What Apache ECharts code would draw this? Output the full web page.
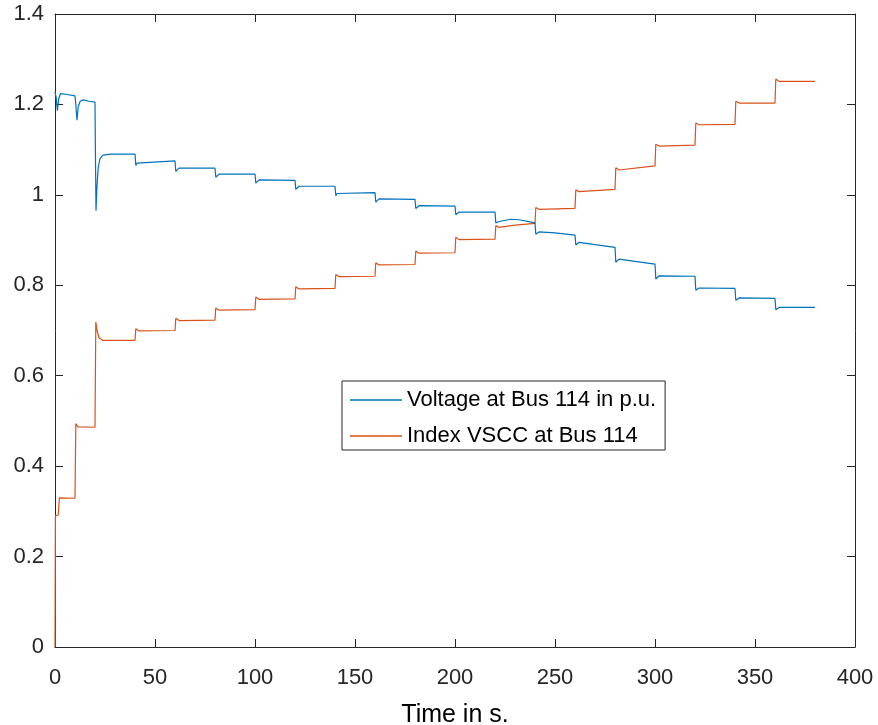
<!DOCTYPE html>
<html>
<head>
<meta charset="utf-8">
<script src="https://cdn.jsdelivr.net/npm/echarts@6/dist/echarts.min.js"></script>
<style>
html,body{margin:0;padding:0;background:#fff;}
#chart{width:878px;height:725px;}
</style>
</head>
<body>
<div id="chart"></div>
<script>
// ---- data ----
var xTicks = [0, 50, 100, 150, 200, 250, 300, 350, 400];
var yTicks = [0, 0.2, 0.4, 0.6, 0.8, 1, 1.2, 1.4];

var voltageName = 'Voltage at Bus 114 in p.u.';
var indexName = 'Index VSCC at Bus 114';

var voltageTime = [0,0.6,1.2,1.8,2.8,6,10,10.4,11,11.6,12.6,14,17,20,20.2,20.5,21,21.6,22.5,24,28,40,
  40.4,41,42,60, 60.4,61,62,80, 80.4,81,82,100, 100.4,101,102,120, 120.4,121,122,140,
  140.4,141,142,160, 160.4,161,162,180, 180.4,181,182,200, 200.4,201,202,220,
  220.4,222,228,232,240, 240.4,242,250,260, 260.4,262,270,280, 280.4,282,290,300,
  300.4,302,320, 320.4,322,340, 340.4,342,360, 360.4,362,380];
var voltageValues = [1.228,1.215,1.186,1.212,1.224,1.222,1.219,1.200,1.165,1.195,1.207,1.210,1.207,1.205,1.10,0.965,1.02,1.06,1.08,1.088,1.090,1.090,
  1.065,1.070,1.073,1.075, 1.052,1.056,1.059,1.059, 1.039,1.043,1.046,1.046, 1.026,1.030,1.033,1.032,
  1.012,1.016,1.019,1.019, 0.998,1.003,1.006,1.005, 0.984,0.988,0.991,0.990, 0.970,0.973,0.976,0.975,
  0.956,0.959,0.962,0.962, 0.938,0.941,0.946,0.945,0.938, 0.913,0.918,0.916,0.911,
  0.889,0.895,0.890,0.884, 0.851,0.858,0.853,0.847, 0.814,0.821,0.820, 0.789,0.794,0.793,
  0.767,0.772,0.771, 0.746,0.751,0.751];

var indexTime = [0,0.2,1.6,2.2,3,10,10.4,11.5,20,20.4,21,22,24,40,
  40.4,42,60, 60.4,62,80, 80.4,82,100, 100.4,102,120, 120.4,122,140, 140.4,142,160,
  160.4,162,180, 180.4,182,200, 200.4,202,220, 220.4,222,230,240, 240.4,242,260,
  260.4,262,280, 280.4,282,300, 300.4,302,320, 320.4,322,340, 340.4,342,360, 360.4,362,380];
var indexValues = [0,0.290,0.292,0.330,0.333,0.329,0.494,0.487,0.486,0.719,0.700,0.684,0.678,0.678,
  0.704,0.699,0.700, 0.727,0.722,0.723, 0.750,0.745,0.746, 0.774,0.769,0.770, 0.797,0.792,0.793,
  0.824,0.819,0.820, 0.850,0.845,0.846, 0.876,0.871,0.872, 0.906,0.901,0.902,
  0.932,0.928,0.933,0.937, 0.972,0.968,0.970, 1.011,1.007,1.012, 1.060,1.055,1.064,
  1.112,1.108,1.110, 1.159,1.155,1.156, 1.207,1.203,1.203, 1.256,1.251,1.251];

function zip(ts, vs) {
  var out = [];
  for (var i = 0; i < ts.length; i++) out.push([ts[i], vs[i]]);
  return out;
}

var FONT = 'Liberation Sans, Arial, Helvetica, sans-serif';
var AX = '#262626';

var chart = echarts.init(document.getElementById('chart'), null, {renderer: 'canvas'});

var baseX = {
  type: 'value',
  min: xTicks[0], max: xTicks[xTicks.length - 1], interval: xTicks[1] - xTicks[0],
  axisLine: {show: true, onZero: false, lineStyle: {color: AX, width: 1}},
  axisTick: {show: true, inside: true, length: 8, lineStyle: {color: AX, width: 1}},
  splitLine: {show: false}
};
var baseY = {
  type: 'value',
  min: yTicks[0], max: yTicks[yTicks.length - 1], interval: yTicks[1] - yTicks[0],
  axisLine: {show: true, onZero: false, lineStyle: {color: AX, width: 1}},
  axisTick: {show: true, inside: true, length: 8, lineStyle: {color: AX, width: 1}},
  splitLine: {show: false}
};

var option = {
  animation: false,
  backgroundColor: '#ffffff',
  grid: {left: 55, right: 23, top: 14, bottom: 78, containLabel: false, outerBoundsMode: 'none'},
  xAxis: [
    Object.assign({}, baseX, {
      position: 'bottom',
      axisLabel: {show: true, margin: 20, color: AX, fontSize: 22, fontFamily: FONT,
        formatter: function (v) { return String(v); }},
      name: 'Time in s.', nameLocation: 'middle', nameGap: 56,
      nameTextStyle: {color: '#000', fontSize: 25, fontFamily: FONT}
    }),
    Object.assign({}, baseX, {position: 'top', axisLabel: {show: false}})
  ],
  yAxis: [
    Object.assign({}, baseY, {
      position: 'left',
      axisLabel: {show: true, margin: 11, color: AX, fontSize: 22, fontFamily: FONT,
        formatter: function (v) { return String(Math.round(v * 10) / 10); }}
    }),
    Object.assign({}, baseY, {position: 'right', axisLabel: {show: false}})
  ],
  legend: {
    orient: 'vertical',
    left: 342, top: 381,
    backgroundColor: '#fff',
    borderColor: AX, borderWidth: 1,
    padding: [6, 9, 1, 8],
    icon: 'rect',
    itemWidth: 52, itemHeight: 1.5, itemGap: 10,
    textStyle: {color: '#000', fontSize: 22, fontFamily: FONT, lineHeight: 26},
    data: [voltageName, indexName]
  },
  series: [
    {
      name: voltageName, type: 'line', xAxisIndex: 0, yAxisIndex: 0,
      data: zip(voltageTime, voltageValues),
      showSymbol: false, symbol: 'none',
      lineStyle: {color: '#0072BD', width: 1.2},
      itemStyle: {color: '#0072BD'},
      z: 3
    },
    {
      name: indexName, type: 'line', xAxisIndex: 0, yAxisIndex: 0,
      data: zip(indexTime, indexValues),
      showSymbol: false, symbol: 'none',
      lineStyle: {color: '#D95319', width: 1.2},
      itemStyle: {color: '#D95319'},
      z: 2
    }
  ]
};
chart.setOption(option);
</script>
</body>
</html>
